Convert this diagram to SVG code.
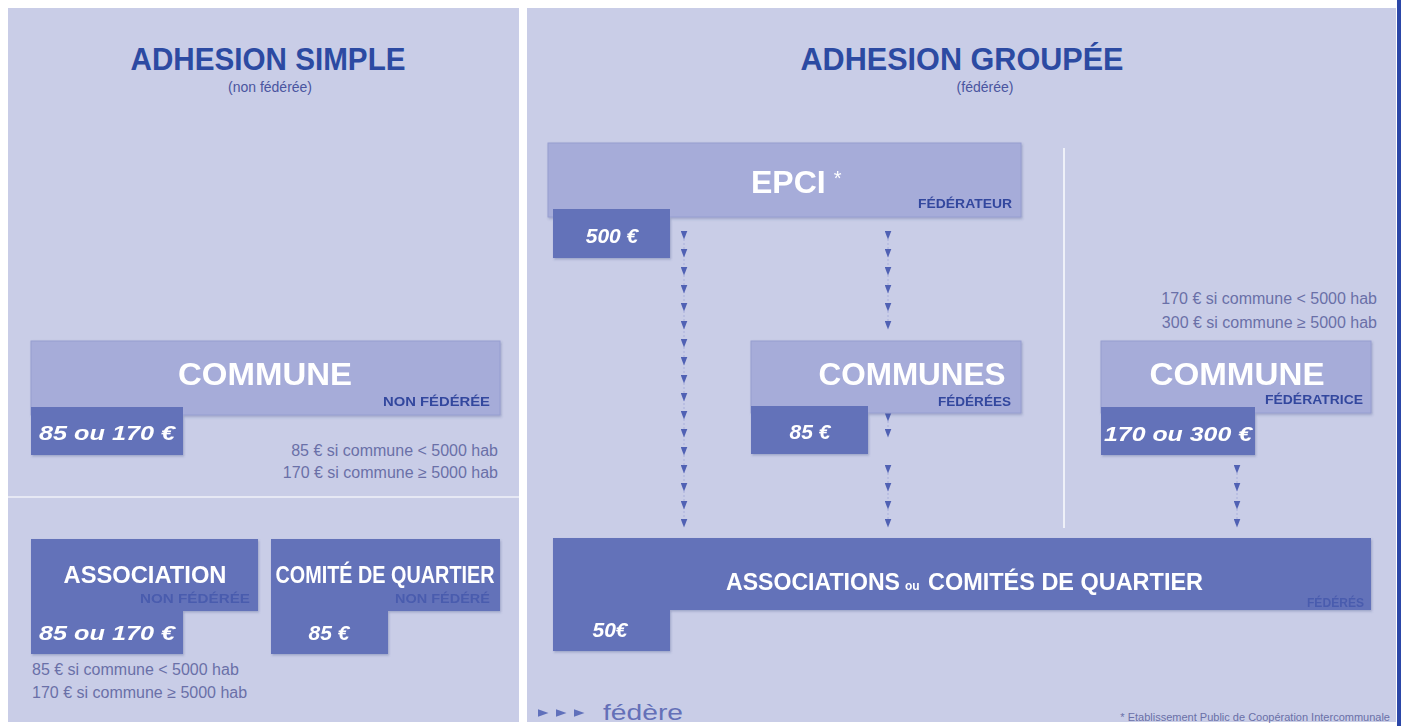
<svg xmlns="http://www.w3.org/2000/svg" width="1403" height="726" viewBox="0 0 1403 726">
<style>
.panel{fill:#c9cde7}
.light{fill:#a6acd9;stroke:#969ed0;stroke-width:1}
.dark{fill:#6472b9}
.title{font-family:"Liberation Sans",Arial,sans-serif;font-weight:bold;font-size:32px;fill:#2c4aa2}
.sub{font-family:"Liberation Sans",Arial,sans-serif;font-size:14px;fill:#4a55a0}
.big{font-family:"Liberation Sans",Arial,sans-serif;font-weight:bold;font-size:32px;fill:#ffffff}
.mid{font-family:"Liberation Sans",Arial,sans-serif;font-weight:bold;font-size:23px;fill:#ffffff}
.tag{font-family:"Liberation Sans",Arial,sans-serif;font-weight:bold;font-size:13px;fill:#33479e}
.tagd{font-family:"Liberation Sans",Arial,sans-serif;font-weight:bold;font-size:13px;fill:#4a5cae}
.price{font-family:"Liberation Sans",Arial,sans-serif;font-weight:bold;font-style:italic;font-size:21px;fill:#ffffff}
.note{font-family:"Liberation Sans",Arial,sans-serif;font-size:16px;fill:#6a70a8}
.stem{fill:none;stroke:#a9afdc;stroke-width:1;stroke-dasharray:2 2;marker-start:url(#tri);marker-mid:url(#tri);marker-end:url(#tri)}
</style>
<defs>
<marker id="tri" viewBox="0 0 9 7" refX="4.5" refY="3.5" markerWidth="9" markerHeight="7" markerUnits="userSpaceOnUse" orient="auto">
<path d="M0,0 L9,3.5 L0,7 Z" fill="#5061b4"/>
</marker>
<marker id="tril" viewBox="0 0 11 8" refX="5.5" refY="4" markerWidth="11" markerHeight="8" markerUnits="userSpaceOnUse" orient="auto">
<path d="M0,0 L11,4 L0,8 Z" fill="#6070bb"/>
</marker>
<filter id="sh" x="-5%" y="-10%" width="110%" height="130%">
<feDropShadow dx="1" dy="1.5" stdDeviation="1.2" flood-color="#3a4580" flood-opacity="0.3"/>
</filter>
</defs>
<rect width="1403" height="726" fill="#ffffff"/>
<g id="panels">
<rect class="panel" x="8" y="8" width="511" height="714"/>
<rect class="panel" x="527" y="8" width="869" height="714"/>
<line x1="8" y1="497" x2="519" y2="497" stroke="#e6e8f4" stroke-width="2"/>
<line x1="1064" y1="148" x2="1064" y2="528" stroke="#eef0f8" stroke-width="2"/>
<rect x="1397" y="0" width="4" height="726" fill="#2c47a8"/>
</g>
<g id="headings">
<text class="title" x="268" y="70" text-anchor="middle" textLength="275" lengthAdjust="spacingAndGlyphs">ADHESION SIMPLE</text>
<text class="sub" x="270" y="92" text-anchor="middle">(non fédérée)</text>
<text class="title" x="962" y="70" text-anchor="middle" textLength="323" lengthAdjust="spacingAndGlyphs">ADHESION GROUPÉE</text>
<text class="sub" x="985" y="92" text-anchor="middle">(fédérée)</text>
</g>
<g id="connectors">
<path class="stem" d="M684,235 V253 V271 V289 V307 V325 V343 V361 V379 V397 V415 V433 V451 V469 V487 V505 V523"/>
<path class="stem" d="M888,235 V253 V271 V289 V307 V325"/>
<path class="stem" d="M888,417 V433"/>
<path class="stem" d="M888,469 V487 V505 V523"/>
<path class="stem" d="M1237,469 V487 V505 V523"/>
</g>
<g id="epci" filter="url(#sh)">
<rect class="light" x="548" y="143" width="473" height="74"/>
<text class="big" x="751" y="193" font-size="28">EPCI<tspan dx="8" dy="-8" font-size="20" font-weight="normal">*</tspan></text>
<text class="tag" x="1012" y="208" text-anchor="end" textLength="94" lengthAdjust="spacingAndGlyphs">FÉDÉRATEUR</text>
<rect class="dark" x="553" y="209" width="117" height="49"/>
<text class="price" x="612" y="243" text-anchor="middle">500 €</text>
</g>
<g id="commune-non-federee" filter="url(#sh)">
<rect class="light" x="31" y="341" width="469" height="74"/>
<text class="big" x="265" y="385" text-anchor="middle" textLength="174" lengthAdjust="spacingAndGlyphs">COMMUNE</text>
<text class="tag" x="490" y="406" text-anchor="end" textLength="107" lengthAdjust="spacingAndGlyphs">NON FÉDÉRÉE</text>
<rect class="dark" x="31" y="407" width="152" height="48"/>
<text class="price" x="107" y="440" text-anchor="middle" textLength="136" lengthAdjust="spacingAndGlyphs">85 ou 170 €</text>
</g>
<g id="note-commune">
<text class="note" x="498" y="456" text-anchor="end">85 € si commune &lt; 5000 hab</text>
<text class="note" x="498" y="478" text-anchor="end">170 € si commune ≥ 5000 hab</text>
</g>
<g id="association" filter="url(#sh)">
<rect class="dark" x="31" y="539" width="227" height="72"/>
<text class="mid" x="145" y="583" text-anchor="middle" textLength="163" lengthAdjust="spacingAndGlyphs">ASSOCIATION</text>
<text class="tagd" x="250" y="603" text-anchor="end" textLength="110" lengthAdjust="spacingAndGlyphs">NON FÉDÉRÉE</text>
<rect class="dark" x="31" y="606" width="152" height="48"/>
<text class="price" x="107" y="640" text-anchor="middle" textLength="136" lengthAdjust="spacingAndGlyphs">85 ou 170 €</text>
</g>
<g id="comite" filter="url(#sh)">
<rect class="dark" x="271" y="539" width="229" height="72"/>
<text class="mid" x="385" y="583" text-anchor="middle" textLength="219" lengthAdjust="spacingAndGlyphs">COMITÉ DE QUARTIER</text>
<text class="tagd" x="490" y="603" text-anchor="end" textLength="95" lengthAdjust="spacingAndGlyphs">NON FÉDÉRÉ</text>
<rect class="dark" x="271" y="606" width="117" height="48"/>
<text class="price" x="329" y="640" text-anchor="middle">85 €</text>
</g>
<g id="note-association">
<text class="note" x="32" y="675">85 € si commune &lt; 5000 hab</text>
<text class="note" x="32" y="698">170 € si commune ≥ 5000 hab</text>
</g>
<g id="communes-federees" filter="url(#sh)">
<rect class="light" x="751" y="341" width="270" height="72"/>
<text class="big" x="912" y="385" text-anchor="middle" textLength="187" lengthAdjust="spacingAndGlyphs">COMMUNES</text>
<text class="tag" x="1011" y="406" text-anchor="end" textLength="73" lengthAdjust="spacingAndGlyphs">FÉDÉRÉES</text>
<rect class="dark" x="751" y="406" width="117" height="48"/>
<text class="price" x="810" y="439" text-anchor="middle">85 €</text>
</g>
<g id="commune-federatrice" filter="url(#sh)">
<rect class="light" x="1101" y="341" width="270" height="72"/>
<text class="big" x="1237" y="385" text-anchor="middle" textLength="175" lengthAdjust="spacingAndGlyphs">COMMUNE</text>
<text class="tag" x="1363" y="404" text-anchor="end" textLength="98" lengthAdjust="spacingAndGlyphs">FÉDÉRATRICE</text>
<rect class="dark" x="1101" y="407" width="154" height="48"/>
<text class="price" x="1178" y="441" text-anchor="middle" textLength="148" lengthAdjust="spacingAndGlyphs">170 ou 300 €</text>
</g>
<g id="note-federatrice">
<text class="note" x="1377" y="304" text-anchor="end">170 € si commune &lt; 5000 hab</text>
<text class="note" x="1377" y="328" text-anchor="end">300 € si commune ≥ 5000 hab</text>
</g>
<g id="associations-federes" filter="url(#sh)">
<rect class="dark" x="553" y="538" width="818" height="72"/>
<text class="mid" x="726" y="590" textLength="174" lengthAdjust="spacingAndGlyphs">ASSOCIATIONS</text>
<text x="905" y="590" font-family="'Liberation Sans',Arial,sans-serif" font-weight="bold" font-size="12" fill="#ffffff">ou</text>
<text class="mid" x="928" y="590" textLength="275" lengthAdjust="spacingAndGlyphs">COMITÉS DE QUARTIER</text>
<text class="tagd" x="1364" y="607" text-anchor="end" textLength="57" lengthAdjust="spacingAndGlyphs">FÉDÉRÉS</text>
<rect class="dark" x="553" y="603" width="117" height="48"/>
<text class="price" x="610" y="637" text-anchor="middle" font-style="normal">50€</text>
</g>
<g id="legend">
<path d="M543,713 H561 H579" fill="none" stroke="none" marker-start="url(#tril)" marker-mid="url(#tril)" marker-end="url(#tril)"/>
<text x="603" y="720" font-family="'Liberation Sans',Arial,sans-serif" font-size="22" fill="#6470b8" textLength="80" lengthAdjust="spacingAndGlyphs">fédère</text>
<text x="1390" y="721" text-anchor="end" font-family="'Liberation Sans',Arial,sans-serif" font-size="11" fill="#6a70a8">* Etablissement Public de Coopération Intercommunale</text>
</g>
</svg>
